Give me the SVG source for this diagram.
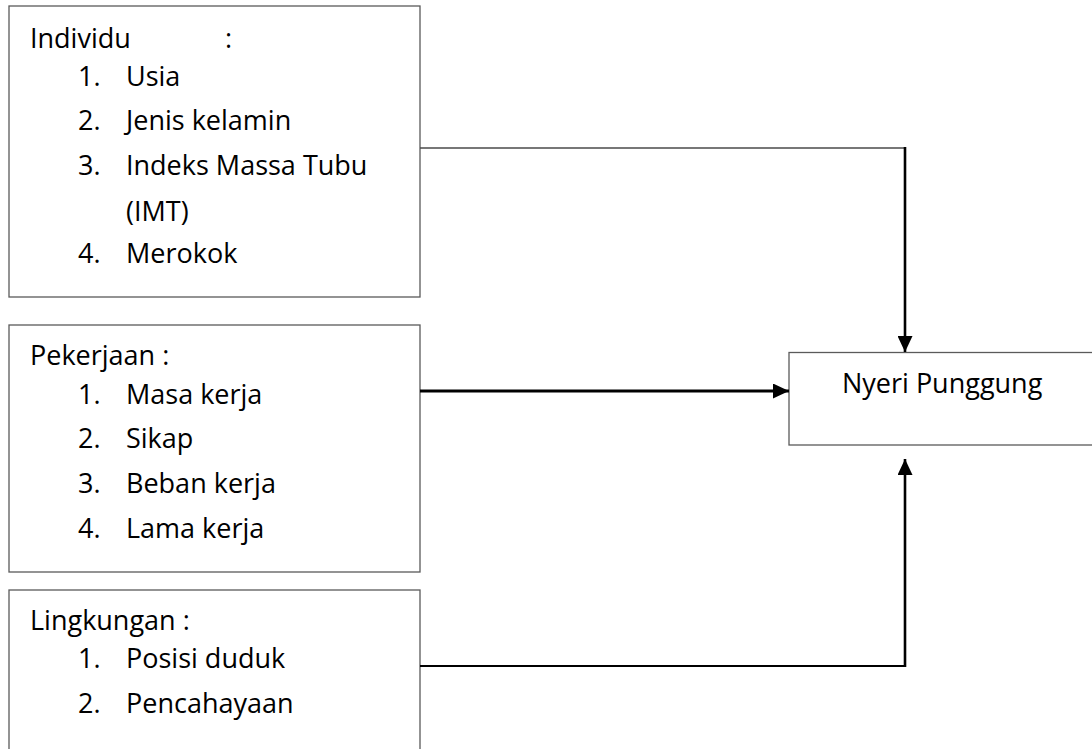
<svg xmlns="http://www.w3.org/2000/svg" width="1092" height="749" viewBox="0 0 1092 749">
  <style>
    .box { fill: #ffffff; stroke: #5a5a5a; stroke-width: 1.3; }
    .t { font-family: "Open Sans", "Liberation Sans", sans-serif; font-size: 27px; fill: #000000; }
    .thin { fill: none; stroke: #4a4a4a; stroke-width: 1.3; }
    .mid { fill: none; stroke: #000000; stroke-width: 1.8; }
    .thick { fill: none; stroke: #000000; stroke-width: 2.6; }
    .bold { fill: none; stroke: #000000; stroke-width: 3.2; }
  </style>
  <defs>
    <marker id="arrow" markerUnits="userSpaceOnUse" markerWidth="17" markerHeight="15" refX="16" refY="7.5" orient="auto">
      <path d="M0,0 L16,7.5 L0,15 z" fill="#000000"/>
    </marker>
  </defs>
  <rect width="1092" height="749" fill="#ffffff"/>

  <g id="individu">
    <rect class="box" x="9" y="6" width="411" height="291"/>
    <text class="t" x="30" y="48">Individu</text>
    <text class="t" x="225" y="48">:</text>
    <text class="t" x="78" y="86">1.</text><text class="t" x="126" y="86">Usia</text>
    <text class="t" x="78" y="130">2.</text><text class="t" x="126" y="130">Jenis kelamin</text>
    <text class="t" x="78" y="175">3.</text><text class="t" x="126" y="175">Indeks Massa Tubu</text>
    <text class="t" x="126" y="221">(IMT)</text>
    <text class="t" x="78" y="263">4.</text><text class="t" x="126" y="263">Merokok</text>
  </g>

  <g id="pekerjaan">
    <rect class="box" x="9" y="325" width="411" height="247"/>
    <text class="t" x="30" y="365">Pekerjaan :</text>
    <text class="t" x="78" y="404">1.</text><text class="t" x="126" y="404">Masa kerja</text>
    <text class="t" x="78" y="448">2.</text><text class="t" x="126" y="448">Sikap</text>
    <text class="t" x="78" y="493">3.</text><text class="t" x="126" y="493">Beban kerja</text>
    <text class="t" x="78" y="538">4.</text><text class="t" x="126" y="538">Lama kerja</text>
  </g>

  <g id="lingkungan">
    <rect class="box" x="9" y="590" width="411" height="175"/>
    <text class="t" x="30" y="630">Lingkungan :</text>
    <text class="t" x="78" y="668">1.</text><text class="t" x="126" y="668">Posisi duduk</text>
    <text class="t" x="78" y="713">2.</text><text class="t" x="126" y="713">Pencahayaan</text>
  </g>

  <g id="nyeri">
    <rect class="box" x="789" y="352.5" width="320" height="92.5"/>
    <text class="t" x="842" y="393">Nyeri Punggung</text>
  </g>

  <g id="connectors">
    <line class="thin" x1="420" y1="148" x2="905" y2="148"/>
    <line class="thick" x1="905" y1="147" x2="905" y2="352" marker-end="url(#arrow)"/>
    <line class="bold" x1="420" y1="391" x2="789" y2="391" marker-end="url(#arrow)"/>
    <line class="mid" x1="420" y1="666" x2="905" y2="666"/>
    <line class="thick" x1="905" y1="667" x2="905" y2="459" marker-end="url(#arrow)"/>
  </g>
</svg>
